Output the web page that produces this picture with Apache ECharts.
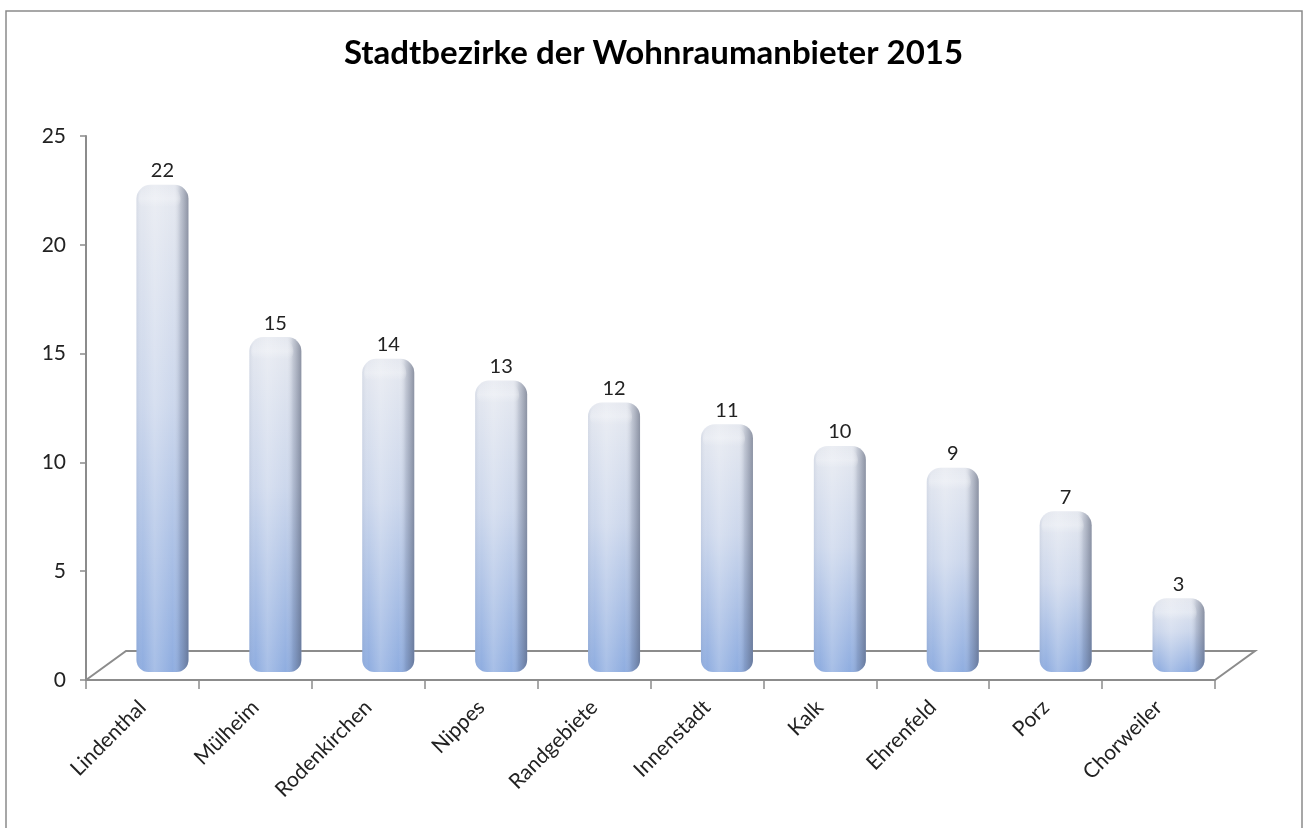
<!DOCTYPE html>
<html>
<head>
<meta charset="utf-8">
<script src="https://cdn.jsdelivr.net/npm/echarts@6/dist/echarts.min.js"></script>
<style>
  html, body { margin: 0; padding: 0; background: #fff; }
  #chart { width: 1307px; height: 828px; }
</style>
</head>
<body>
<div id="chart"></div>
<script>
const districts = ["Lindenthal", "Mülheim", "Rodenkirchen", "Nippes", "Randgebiete", "Innenstadt", "Kalk", "Ehrenfeld", "Porz", "Chorweiler"];
const counts = [22, 15, 14, 13, 12, 11, 10, 9, 7, 3];
const yTicks = [0, 25, 5];  // min, max, interval

// fake 3d depth offset of the cylinders / floor (Excel style)
const depthX = 40, depthY = 29;

const myChart = echarts.init(document.getElementById("chart"));

function renderBar(params, api) {
  const idx = api.value(0);
  const top = api.coord([idx, api.value(1)]);
  const base = api.coord([idx, 0]);
  const w = 52;
  const cx = top[0] + depthX / 2;
  const y0 = top[1] - depthY / 2 - 2;
  const y1 = base[1] - 8;
  const x0 = cx - w / 2;
  return {
    type: "group",
    children: [
      {
        type: "rect",
        shape: { x: x0, y: y0, width: w, height: y1 - y0, r: [14, 14, 12, 12] },
        style: {
          fill: new echarts.graphic.LinearGradient(0, 0, 0, 1, [
            { offset: 0, color: "#e6e9f0" },
            { offset: 0.45, color: "#ccd7ec" },
            { offset: 1, color: "#8fadE0" }
          ])
        }
      },
      {
        type: "rect",
        shape: { x: x0, y: y0, width: w, height: y1 - y0, r: [14, 14, 12, 12] },
        style: {
          fill: new echarts.graphic.LinearGradient(0, 0, 1, 0, [
            { offset: 0, color: "rgba(110,125,155,0.12)" },
            { offset: 0.12, color: "rgba(255,255,255,0.0)" },
            { offset: 0.35, color: "rgba(255,255,255,0.22)" },
            { offset: 0.7, color: "rgba(255,255,255,0.0)" },
            { offset: 0.84, color: "rgba(80,90,115,0.22)" },
            { offset: 1, color: "rgba(70,78,100,0.55)" }
          ])
        }
      },
      {
        type: "rect",
        shape: { x: x0 + 2, y: y0 + 2, width: w - 10, height: 20, r: [12, 12, 6, 6] },
        style: {
          fill: new echarts.graphic.LinearGradient(0, 0, 0, 1, [
            { offset: 0, color: "rgba(255,255,255,0.0)" },
            { offset: 0.6, color: "rgba(255,255,255,0.25)" },
            { offset: 1, color: "rgba(255,255,255,0.0)" }
          ])
        }
      },
      {
        type: "text",
        style: {
          x: cx,
          y: y0 - 14,
          text: String(api.value(1)),
          align: "center",
          verticalAlign: "middle",
          font: "20px Lato, sans-serif",
          fill: "#222"
        }
      }
    ]
  };
}

function renderFloor(params, api) {
  const g = params.coordSys;
  const bx = g.x, by = g.y + g.height;
  return {
    type: "polyline",
    shape: {
      points: [
        [bx, by],
        [bx + depthX, by - depthY],
        [bx + g.width + depthX, by - depthY],
        [bx + g.width, by]
      ]
    },
    style: { stroke: "#8c8c8c", lineWidth: 2, fill: null }
  };
}

const option = {
  backgroundColor: "#fff",
  animation: false,
  title: {
    text: "Stadtbezirke der Wohnraumanbieter 2015",
    left: "center",
    top: 32,
    textStyle: { fontFamily: "Lato", fontWeight: "bold", fontSize: 33, color: "#000" }
  },
  graphic: [
    {
      type: "rect",
      shape: { x: 6, y: 11, width: 1296, height: 840 },
      style: { fill: null, stroke: "#8a8a8a", lineWidth: 1.5 },
      silent: true
    }
  ],
  grid: { left: 86, right: 92, top: 136, bottom: 148 },
  xAxis: {
    type: "category",
    data: districts,
    axisLine: { lineStyle: { color: "#8c8c8c", width: 2 } },
    axisTick: { show: true, length: 9, lineStyle: { color: "#8c8c8c", width: 1.5 } },
    axisLabel: {
      rotate: 45,
      margin: 24,
      interval: 0,
      fontFamily: "Lato",
      fontSize: 21,
      color: "#222"
    }
  },
  yAxis: {
    type: "value",
    min: yTicks[0],
    max: yTicks[1],
    interval: yTicks[2],
    splitLine: { show: false },
    axisLine: { show: true, lineStyle: { color: "#8c8c8c", width: 2 } },
    axisTick: { show: true, length: 6, lineStyle: { color: "#8c8c8c", width: 1.5 } },
    axisLabel: { margin: 20, fontFamily: "Lato", fontSize: 21, color: "#222" }
  },
  series: [
    {
      type: "custom",
      name: "floor",
      renderItem: renderFloor,
      data: [[0, 0]],
      silent: true,
      z: 1
    },
    {
      type: "custom",
      name: "Anbieter",
      renderItem: renderBar,
      data: counts.map((v, i) => [i, v]),
      z: 2
    }
  ]
};

myChart.setOption(option);
</script>
</body>
</html>
